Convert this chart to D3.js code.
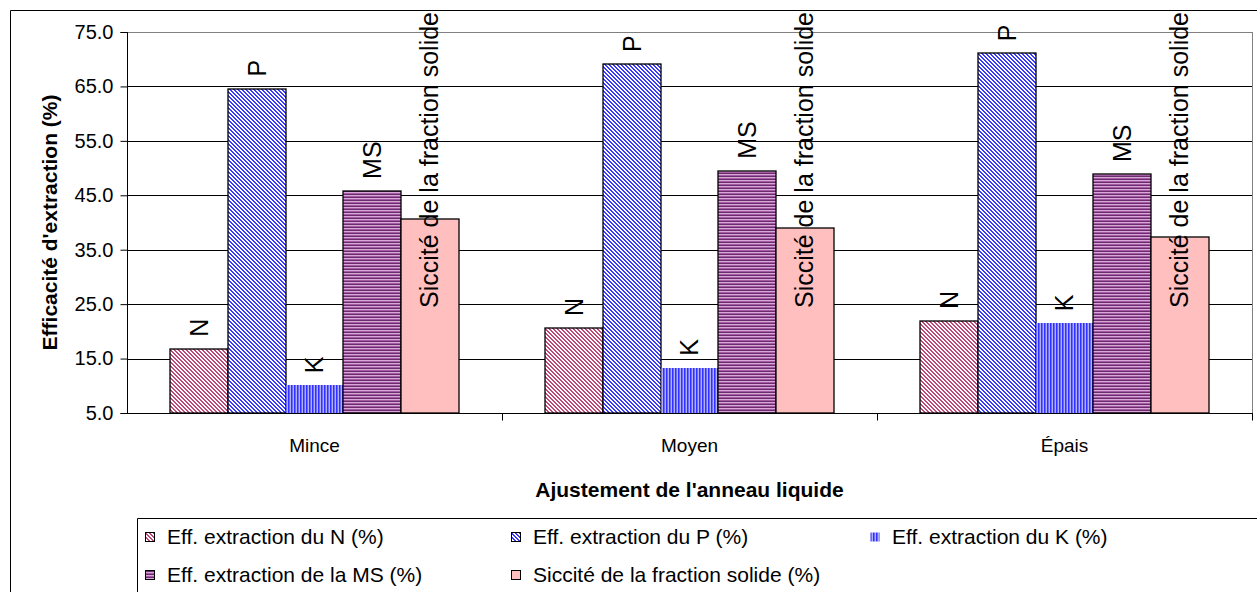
<!DOCTYPE html>
<html>
<head>
<meta charset="utf-8">
<script src="https://cdn.jsdelivr.net/npm/d3@7"></script>
<style>
html,body{margin:0;padding:0;background:#fff;}
svg{display:block;font-family:"Liberation Sans",Arial,sans-serif;}
</style>
</head>
<body>
<svg id="chart" width="1257" height="592"></svg>
<script>
// ---- data ----
const categories = ["Mince", "Moyen", "Épais"];
const seriesKeys = ["N", "P", "K", "MS", "S"];
const barLabels = ["N", "P", "K", "MS", "Siccité de la fraction solide"];
const legendNames = [
  "Eff. extraction du N (%)",
  "Eff. extraction du P (%)",
  "Eff. extraction du K (%)",
  "Eff. extraction de la MS (%)",
  "Siccité de la fraction solide (%)"
];
const valuesN = [16.8, 20.6, 21.9];
const valuesP = [64.6, 69.1, 71.1];
const valuesK = [10.1, 13.3, 21.5];
const valuesMS = [45.8, 49.5, 48.9];
const valuesS = [40.7, 39.0, 37.3];
const yTicks = [5, 15, 25, 35, 45, 55, 65, 75];
const yTitle = "Efficacité d'extraction (%)";
const xTitle = "Ajustement de l'anneau liquide";

const seriesValues = [valuesN, valuesP, valuesK, valuesMS, valuesS];

// ---- layout ----
const W = 1257, H = 592;
const plot = {left: 127, right: 1252, top: 32, bottom: 413};
const svg = d3.select("#chart");

// patterns
const defs = svg.append("defs");
function pixPattern(id, w, h, bg, pixels, color) {
  const p = defs.append("pattern").attr("id", id).attr("patternUnits", "userSpaceOnUse")
    .attr("width", w).attr("height", h);
  p.append("rect").attr("width", w).attr("height", h).attr("fill", bg);
  pixels.forEach(([x, y]) => p.append("rect").attr("x", x).attr("y", y).attr("width", 1).attr("height", 1)
    .attr("fill", color).attr("shape-rendering", "crispEdges"));
}
// N : diagonal dark pink on white
pixPattern("patN", 4, 4, "#ffffff", [[0,0],[1,0],[1,1],[2,1],[2,2],[3,2],[3,3],[0,3]], "#c04878");
// P : blue diagonal with white
pixPattern("patP", 4, 4, "#ffffff", [[0,0],[1,0],[1,1],[2,1],[2,2],[3,2],[3,3],[0,3]], "#3a3aff");
// K : vertical stripes
(function(){
  const p = defs.append("pattern").attr("id", "patK").attr("patternUnits", "userSpaceOnUse").attr("width", 3).attr("height", 3);
  p.append("rect").attr("x", 0).attr("width", 1).attr("height", 3).attr("fill", "#3030ff");
  p.append("rect").attr("x", 1).attr("width", 1).attr("height", 3).attr("fill", "#6a6aff");
  p.append("rect").attr("x", 2).attr("width", 1).attr("height", 3).attr("fill", "#b0b0ff");
})();
// MS : horizontal stripes
(function(){
  const p = defs.append("pattern").attr("id", "patMS").attr("patternUnits", "userSpaceOnUse").attr("width", 3).attr("height", 3);
  p.append("rect").attr("y", 0).attr("width", 3).attr("height", 1).attr("fill", "#d8a8d8");
  p.append("rect").attr("y", 1).attr("width", 3).attr("height", 1).attr("fill", "#a55aa5");
  p.append("rect").attr("y", 2).attr("width", 3).attr("height", 1).attr("fill", "#6a2c6a");
})();
const fills = {N: "url(#patN)", P: "url(#patP)", K: "url(#patK)", MS: "url(#patMS)", S: "#ffbfbf"};
const strokes = {N: "#000", P: "#000", K: "none", MS: "#000", S: "#000"};

// outer chart border
svg.append("path").attr("d", `M10.5,${H} V10.5 H${W}`).attr("fill", "none").attr("stroke", "#000").attr("stroke-width", 1);

// scales
const y = d3.scaleLinear().domain([5, 75]).range([plot.bottom, plot.top]);
const x0 = d3.scaleBand().domain(categories).range([plot.left, plot.right]).padding(0);
const x1 = d3.scaleBand().domain(seriesKeys).range([0, x0.bandwidth()]).paddingInner(0).paddingOuter(0.755);
const R = Math.round;

// gridlines
svg.append("g").selectAll("line").data(yTicks.filter(t => t > 5 && t < 75)).join("line")
  .attr("x1", plot.left).attr("x2", plot.right)
  .attr("y1", d => R(y(d)) + 0.5).attr("y2", d => R(y(d)) + 0.5)
  .attr("stroke", "#000").attr("stroke-width", 1);

// plot border (gray)
svg.append("rect").attr("x", plot.left + 0.5).attr("y", plot.top + 0.5)
  .attr("width", plot.right - plot.left).attr("height", plot.bottom - plot.top)
  .attr("fill", "none").attr("stroke", "#808080").attr("stroke-width", 1);

// bars
const rows = (c, ci) => seriesKeys.map((k, si) => ({k, si, c, v: seriesValues[si][ci]}));
const groups = svg.append("g").selectAll("g").data(categories).join("g");
groups.selectAll("rect").data(rows).join("rect")
  .attr("x", d => R(x0(d.c) + x1(d.k)))
  .attr("y", d => R(y(d.v)))
  .attr("width", d => R(x0(d.c) + x1(d.k) + x1.bandwidth()) - R(x0(d.c) + x1(d.k)))
  .attr("height", d => R(y(5)) - R(y(d.v)))
  .attr("fill", d => fills[d.k])
  .attr("stroke", d => strokes[d.k])
  .attr("stroke-width", 1.3);

// bar labels (rotated)
const labelSize = 25;
groups.selectAll("text").data(rows).join("text")
  .attr("font-size", labelSize)
  .attr("fill", "#000")
  .attr("dy", "0.35em")
  .text(d => barLabels[d.si])
  .each(function(d) {
    const len = this.getComputedTextLength();
    let bottom = y(d.v) - 12;
    if (bottom - len < 12) bottom = 12 + len;
    const cx = x0(d.c) + x1(d.k) + x1.bandwidth() / 2;
    d3.select(this).attr("transform", `translate(${cx},${bottom}) rotate(-90)`);
  });

// y axis
const yAxis = d3.axisLeft(y).tickValues(yTicks).tickSize(7).tickPadding(7).tickFormat(d3.format(".1f"));
const gy = svg.append("g").attr("transform", `translate(${plot.left + 0.5},0)`).call(yAxis);
gy.select(".domain").attr("stroke", "#000").attr("d", `M-7,${plot.top + 0.5}H0V${plot.bottom + 0.5}H-7`);
gy.selectAll(".tick line").attr("stroke", "#000");
gy.selectAll("text").attr("font-size", 20).attr("font-family", "Liberation Sans, Arial, sans-serif").attr("fill", "#000");

// x axis
const gx = svg.append("g").attr("transform", `translate(0,${plot.bottom + 0.5})`);
gx.append("line").attr("x1", plot.left).attr("x2", plot.right + 1).attr("stroke", "#000");
gx.selectAll("line.tk").data(categories.slice(1)).join("line").attr("class", "tk")
  .attr("x1", d => R(x0(d)) + 0.5).attr("x2", d => R(x0(d)) + 0.5)
  .attr("y1", 0).attr("y2", 7).attr("stroke", "#000");
gx.append("line").attr("x1", plot.right + 0.5).attr("x2", plot.right + 0.5).attr("y1", 0).attr("y2", 7).attr("stroke", "#000");
gx.selectAll("text").data(categories).join("text")
  .attr("x", d => x0(d) + x0.bandwidth() / 2).attr("y", 38)
  .attr("text-anchor", "middle").attr("font-size", 19).attr("fill", "#000").text(d => d);

// axis titles
svg.append("text").attr("x", (plot.left + plot.right) / 2).attr("y", 497)
  .attr("text-anchor", "middle").attr("font-size", 21).attr("font-weight", "bold").text(xTitle);
svg.append("text").attr("transform", `translate(57,${(plot.top + plot.bottom) / 2}) rotate(-90)`)
  .attr("text-anchor", "middle").attr("font-size", 21).attr("font-weight", "bold").text(yTitle);

// legend
svg.append("path").attr("d", `M${W},518.5 H137.5 V${H}`).attr("fill", "none").attr("stroke", "#000");
const legCols = [145, 511, 870];
const legRows = [537, 575];
const leg = svg.append("g").selectAll("g").data(seriesKeys).join("g")
  .attr("transform", (d, i) => `translate(${legCols[i % 3]},${legRows[Math.floor(i / 3)]})`);
leg.append("rect").attr("x", 0.5).attr("y", -4.5).attr("width", 9).attr("height", 9)
  .attr("fill", d => fills[d]).attr("stroke", d => d === "K" ? "none" : "#000");
leg.append("text").attr("x", 22).attr("dy", "0.35em").attr("font-size", 21).attr("fill", "#000")
  .text((d, i) => legendNames[i]);
</script>
</body>
</html>
